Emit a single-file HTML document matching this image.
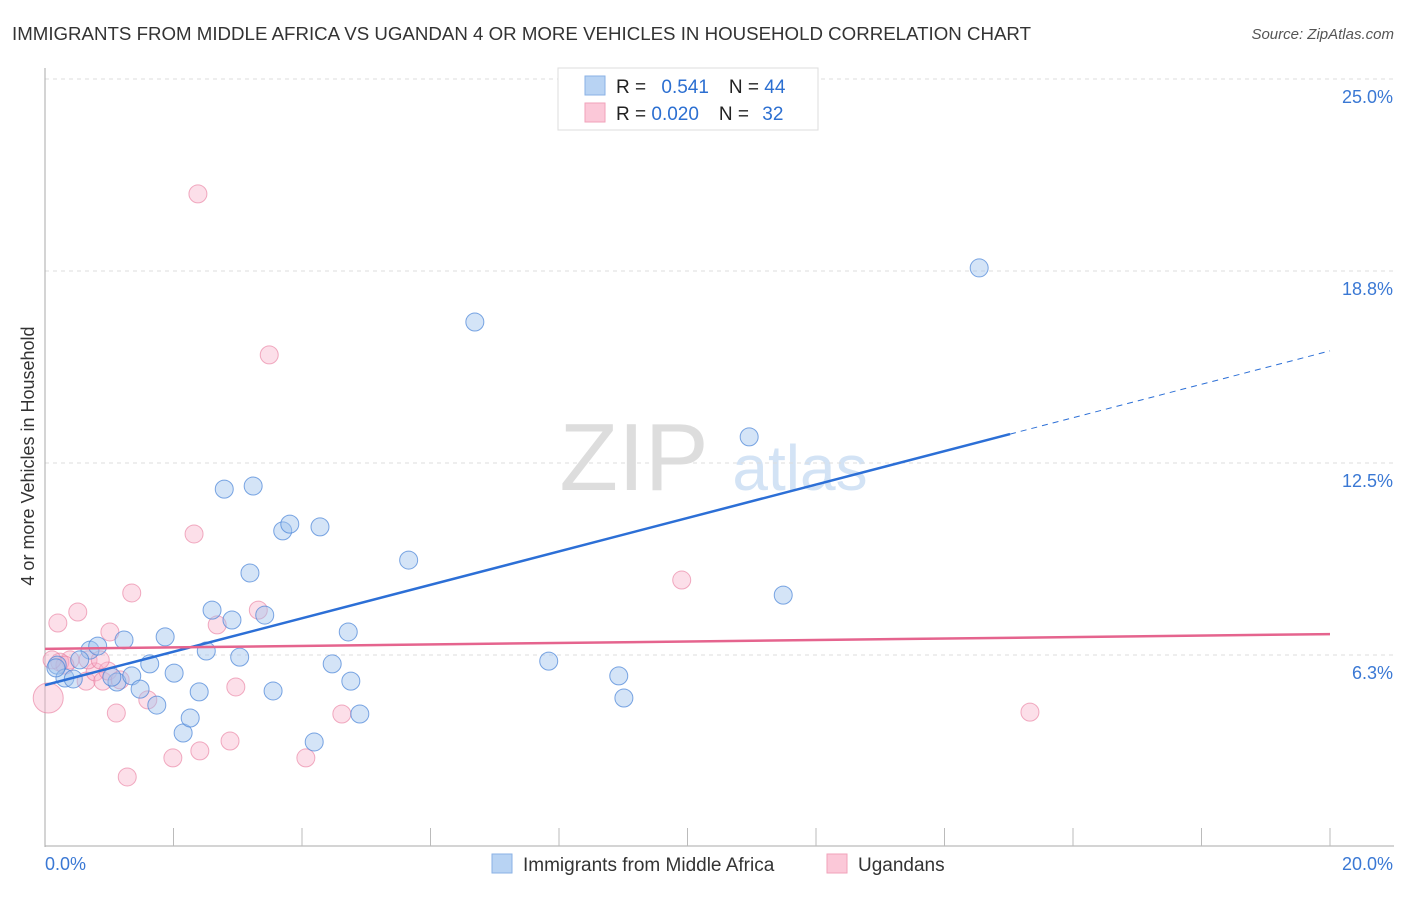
<!DOCTYPE html>
<html><head><meta charset="utf-8"><style>
body{margin:0;background:#fff;font-family:"Liberation Sans",sans-serif;}
svg text{font-family:"Liberation Sans",sans-serif;}
</style></head><body>
<svg id="c" width="1406" height="892">
<text x="12" y="40" font-size="18" fill="#333" textLength="1019" lengthAdjust="spacingAndGlyphs">IMMIGRANTS FROM MIDDLE AFRICA VS UGANDAN 4 OR MORE VEHICLES IN HOUSEHOLD CORRELATION CHART</text>
<text x="1394" y="39" font-size="15" fill="#555" font-style="italic" text-anchor="end">Source: ZipAtlas.com</text>
<text x="634" y="490" font-size="96" fill="#ddd" font-family="Liberation Serif" text-anchor="middle">ZIP</text>
<text x="800" y="490" font-size="64" fill="#d3e3f5" text-anchor="middle">atlas</text>
<text transform="translate(34,456) rotate(-90)" font-size="18" fill="#333" text-anchor="middle">4 or more Vehicles in Household</text>
<g id="grid"></g><g id="pts"></g><g id="lines"></g>
<g>
<rect x="558" y="68" width="260" height="62" fill="#fff" stroke="#ddd"/>
<rect x="585" y="76" width="20" height="19" fill="#b8d3f3" stroke="#8ab2e6"/>
<rect x="585" y="103" width="20" height="19" fill="#fbc8d8" stroke="#f0a2ba"/>
<text x="616" y="93" font-size="19" fill="#222">R = <tspan fill="#2c6fd1" dx="10">0.541</tspan><tspan fill="#222" dx="20">N = </tspan><tspan fill="#2c6fd1">44</tspan></text>
<text x="616" y="120" font-size="19" fill="#222">R = <tspan fill="#2c6fd1">0.020</tspan><tspan fill="#222" dx="20">N = </tspan><tspan fill="#2c6fd1" dx="8">32</tspan></text>
</g>
<g>
<rect x="492" y="854" width="20" height="19" fill="#b8d3f3" stroke="#8ab2e6"/>
<text x="523" y="871" font-size="19" fill="#333">Immigrants from Middle Africa</text>
<rect x="827" y="854" width="20" height="19" fill="#fbc8d8" stroke="#f0a2ba"/>
<text x="858" y="871" font-size="19" fill="#333">Ugandans</text>
</g>
<text x="45" y="870" font-size="18" fill="#3a78d4">0.0%</text>
<text x="1393" y="870" font-size="18" fill="#3a78d4" text-anchor="end">20.0%</text>
</svg>
<script>
const yTicks=[6.3,12.5,18.8,25.0];
const yTickVals=[6.25,12.5,18.75,25];
const blueX=[0.19,0.31,0.44,0.70,0.82,1.23,1.12,1.35,1.48,1.63,1.74,1.87,2.01,2.15,2.26,2.40,2.51,2.60,2.79,2.91,3.03,3.19,3.24,3.42,3.55,3.70,3.81,4.19,4.28,4.47,4.72,4.76,4.90,5.66,6.69,7.84,8.93,9.01,10.96,11.49,14.54,0.17,0.54,1.04];
const blueY=[5.92,5.50,5.47,6.41,6.54,6.74,5.37,5.57,5.14,5.96,4.62,6.84,5.66,3.71,4.20,5.05,6.38,7.71,11.65,7.39,6.18,8.92,11.75,7.55,5.08,10.29,10.51,3.42,10.42,5.96,7.00,5.40,4.33,9.34,17.09,6.05,5.57,4.85,13.35,8.20,18.85,5.83,6.09,5.53];
const pinkX=[0.05,0.20,0.39,0.51,0.64,0.78,0.90,1.01,1.11,1.28,1.35,1.60,1.99,2.32,2.38,2.41,2.68,2.88,2.97,3.32,3.49,4.06,4.62,9.91,15.33,0.23,0.31,0.98,1.17,0.67,0.11,0.86];
const pinkY=[4.85,7.29,6.09,7.65,5.40,5.70,5.40,7.00,4.36,2.28,8.27,4.79,2.90,10.19,21.26,3.13,7.23,3.45,5.21,7.71,16.02,2.90,4.33,8.69,4.39,6.02,5.92,5.73,5.44,6.09,6.09,6.09];
const blueLine=[5.27,0.544];
const pinkLine=[6.45,0.024];
const X=v=>45+v/20*1285, Y=v=>847-v*30.72;
const NS="http://www.w3.org/2000/svg";
function mk(t,a,p){const e=document.createElementNS(NS,t);for(const k in a)e.setAttribute(k,a[k]);p.appendChild(e);return e;}
const g=document.getElementById('grid');
yTickVals.forEach((v,i)=>{
 const l=mk('line',{x1:45,x2:1394,y1:Y(v),y2:Y(v),stroke:'#ddd','stroke-dasharray':'4,4'},g);
 
 
 const t=mk('text',{x:1393,y:Y(v)+24,'font-size':18,fill:'#3a78d4','text-anchor':'end'},g);
 t.textContent=yTicks[i].toFixed(1)+'%';
 
 
});
const ax=mk('line',{x1:45,x2:45,y1:68,y2:847,stroke:'#aaa'},g);


const bx=mk('line',{x1:45,x2:1394,y1:846,y2:846,stroke:'#aaa'},g);


for(let i=1;i<=10;i++){const tk=mk('line',{x1:X(i*2),x2:X(i*2),y1:828,y2:846,stroke:'#bbb'},g);
 
 }
const p=document.getElementById('pts');
pinkX.forEach((x,i)=>{const c=mk('circle',{cx:X(x),cy:Y(pinkY[i]),r:i==0?15:9,fill:'rgba(248,176,200,0.4)',stroke:'rgba(232,120,155,0.6)'},p);
 
 });
blueX.forEach((x,i)=>{const c=mk('circle',{cx:X(x),cy:Y(blueY[i]),r:9,fill:'rgba(160,196,238,0.45)',stroke:'rgba(70,130,215,0.7)'},p);
 
 });
const L=document.getElementById('lines');
const bl=mk('line',{x1:X(0),y1:Y(blueLine[0]),x2:X(15.02),y2:Y(blueLine[0]+blueLine[1]*15.02),stroke:'#2c6fd6','stroke-width':2.5},L);


const bd=mk('line',{x1:X(15.02),y1:Y(blueLine[0]+blueLine[1]*15.02),x2:X(20),y2:Y(blueLine[0]+blueLine[1]*20),stroke:'#2c6fd6','stroke-width':1,'stroke-dasharray':'6,5'},L);


const pl=mk('line',{x1:X(0),y1:Y(pinkLine[0]),x2:X(20),y2:Y(pinkLine[0]+pinkLine[1]*20),stroke:'#e5648e','stroke-width':2.5},L);


</script>
</body></html>
